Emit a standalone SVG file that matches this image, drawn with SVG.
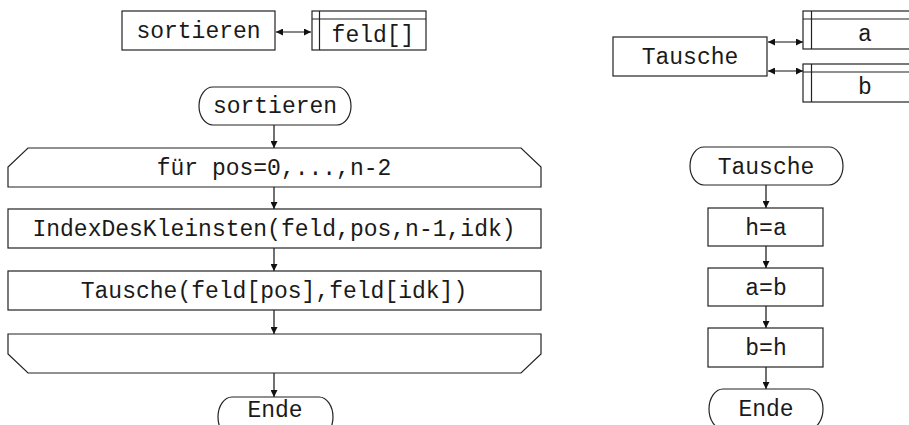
<svg xmlns="http://www.w3.org/2000/svg" width="909" height="425" viewBox="0 0 909 425">
<style>
.b{fill:#fff;stroke:#222;stroke-width:1.2}
.l{fill:none;stroke:#222;stroke-width:1.2}
.t{font-family:"Liberation Mono","DejaVu Sans Mono",monospace;font-size:23px;fill:#1a1a1a;text-anchor:middle}
.c{fill:none;stroke:#111;stroke-width:1.2}
</style>
<defs>
<marker id="ah" viewBox="0 0 10 10" refX="10" refY="5" markerWidth="9" markerHeight="7" markerUnits="userSpaceOnUse" orient="auto-start-reverse">
<path d="M0,0 L10,5 L0,10 Z" fill="#111"/>
</marker>
</defs>
<g id="connectors">
<line class="c" x1="276" y1="32" x2="311" y2="32" marker-start="url(#ah)" marker-end="url(#ah)"/>
<line class="c" x1="768" y1="42" x2="803" y2="42" marker-start="url(#ah)" marker-end="url(#ah)"/>
<line class="c" x1="768" y1="71" x2="803" y2="71" marker-start="url(#ah)" marker-end="url(#ah)"/>
<line class="c" x1="274" y1="125" x2="274" y2="148" marker-end="url(#ah)"/>
<line class="c" x1="274" y1="187" x2="274" y2="209" marker-end="url(#ah)"/>
<line class="c" x1="274" y1="248" x2="274" y2="271" marker-end="url(#ah)"/>
<line class="c" x1="274" y1="310" x2="274" y2="334" marker-end="url(#ah)"/>
<line class="c" x1="274" y1="373" x2="274" y2="397" marker-end="url(#ah)"/>
<line class="c" x1="766" y1="185" x2="766" y2="208" marker-end="url(#ah)"/>
<line class="c" x1="766" y1="246" x2="766" y2="268" marker-end="url(#ah)"/>
<line class="c" x1="766" y1="306" x2="766" y2="328" marker-end="url(#ah)"/>
<line class="c" x1="766" y1="367" x2="766" y2="389" marker-end="url(#ah)"/>
</g>
<g id="sortieren-head">
<rect class="b" x="122" y="11" width="153" height="39"/>
<text class="t" x="198.5" y="38">sortieren</text>
</g>
<g id="feld-param">
<rect class="b" x="312" y="11" width="114" height="39"/>
<line class="l" x1="319.5" y1="11" x2="319.5" y2="50"/>
<line class="l" x1="312" y1="19" x2="426" y2="19"/>
<text class="t" x="373" y="42">feld[]</text>
</g>
<g id="tausche-head">
<rect class="b" x="613" y="37" width="154" height="39"/>
<text class="t" x="690" y="64">Tausche</text>
</g>
<g id="param-a">
<rect class="b" x="803" y="11" width="130" height="38"/>
<line class="l" x1="811.5" y1="11" x2="811.5" y2="49"/>
<line class="l" x1="803" y1="19" x2="933" y2="19"/>
<text class="t" x="865" y="41">a</text>
</g>
<g id="param-b">
<rect class="b" x="803" y="64" width="130" height="38"/>
<line class="l" x1="811.5" y1="64" x2="811.5" y2="102"/>
<line class="l" x1="803" y1="72" x2="933" y2="72"/>
<text class="t" x="865" y="94">b</text>
</g>
<g id="start-sortieren">
<rect class="b" x="199" y="87" width="152" height="38" rx="14" ry="19"/>
<text class="t" x="275" y="113">sortieren</text>
</g>
<g id="loop-head">
<path class="b" d="M28,148 L521,148 L541,167 L541,187 L8,187 L8,167 Z"/>
<text class="t" x="274" y="175">für pos=0,...,n-2</text>
</g>
<g id="index">
<rect class="b" x="8" y="209" width="533" height="39"/>
<text class="t" x="274" y="236">IndexDesKleinsten(feld,pos,n-1,idk)</text>
</g>
<g id="tausche-call">
<rect class="b" x="8" y="271" width="533" height="39"/>
<text class="t" x="274" y="298">Tausche(feld[pos],feld[idk])</text>
</g>
<g id="loop-end">
<path class="b" d="M8,334 L541,334 L541,354 L521,373 L28,373 L8,354 Z"/>
</g>
<g id="end-sortieren">
<rect class="b" x="218" y="397" width="115" height="40" rx="14" ry="20"/>
<text class="t" x="275" y="417">Ende</text>
</g>
<g id="start-tausche">
<rect class="b" x="690" y="147" width="153" height="38" rx="14" ry="19"/>
<text class="t" x="766" y="174">Tausche</text>
</g>
<g id="h-a">
<rect class="b" x="708" y="208" width="115" height="38"/>
<text class="t" x="766" y="235">h=a</text>
</g>
<g id="a-b">
<rect class="b" x="708" y="268" width="115" height="38"/>
<text class="t" x="766" y="295">a=b</text>
</g>
<g id="b-h">
<rect class="b" x="708" y="328" width="115" height="39"/>
<text class="t" x="766" y="355">b=h</text>
</g>
<g id="end-tausche">
<rect class="b" x="709" y="389" width="114" height="40" rx="14" ry="20"/>
<text class="t" x="766" y="416">Ende</text>
</g>
</svg>
